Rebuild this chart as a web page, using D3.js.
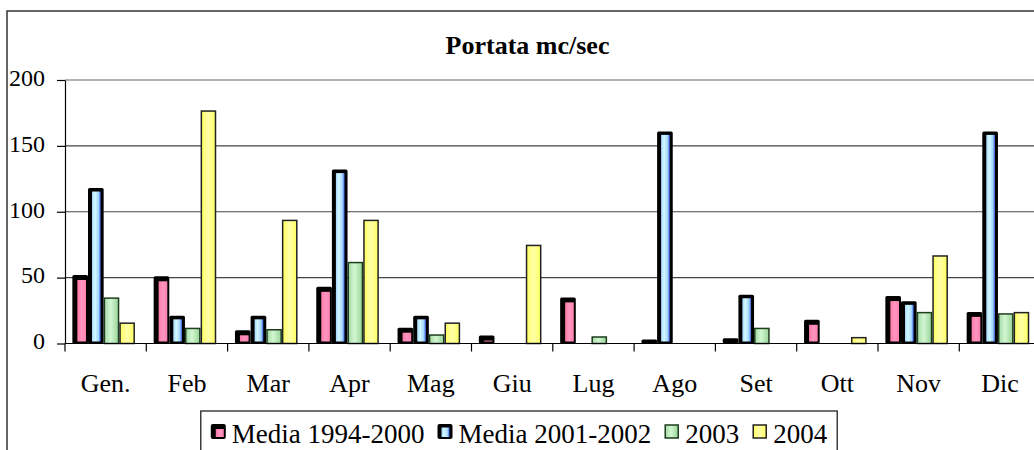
<!DOCTYPE html>
<html>
<head>
<meta charset="utf-8">
<script src="https://cdn.jsdelivr.net/npm/d3@7"></script>
<style>
  body { margin: 0; background: #fff; }
  svg { display: block; }
  svg text { font-family: "Liberation Serif", "DejaVu Serif", serif; }
</style>
</head>
<body>
<div id="wrapper"></div>
<script>
// data
const months = ["Gen.", "Feb", "Mar", "Apr", "Mag", "Giu", "Lug", "Ago", "Set", "Ott", "Nov", "Dic"]
const seriesNames = ["Media 1994-2000", "Media 2001-2002", "2003", "2004"]
const media9400 = [52, 51, 10, 43, 12, 6, 35, 3, 4, 18, 36, 24]
const media0102 = [118, 21, 21, 132, 21, 0, 0, 161, 37, 0, 32, 161]
const y2003 = [35, 12, 11, 62, 7, 0, 5.5, 0, 12, 0, 24, 23]
const y2004 = [16, 177, 94, 94, 16, 75, 0, 0, 0, 5, 67, 24]
const yTicks = [0, 50, 100, 150, 200]

const seriesValues = [media9400, media0102, y2003, y2004]

function drawChart() {

  // 1. dimensions
  const dimensions = {
    width: 1034,
    height: 450,
    frame: { left: 7, top: 11, right: 1048, bottom: 470 },
    margin: { top: 80, left: 65, bottom: 106.5 }
  }
  dimensions.boundedWidth = 12 * 81.3
  dimensions.boundedHeight = dimensions.height - dimensions.margin.top - dimensions.margin.bottom

  const font = "Liberation Serif"

  // 2. canvas
  const wrapper = d3.select("#wrapper")
    .append("svg")
    .attr("width", dimensions.width)
    .attr("height", dimensions.height)
    .attr("font-family", font)

  const defs = wrapper.append("defs")
  const gradients = [
    { id: "g-pink", stops: [["0%", "#ff7aa8"], ["50%", "#ff96c0"], ["100%", "#ff80b0"]] },
    { id: "g-blue", stops: [["0%", "#a8d8ff"], ["35%", "#d2faff"], ["75%", "#a6d6ff"], ["100%", "#3a62e0"]] },
    { id: "g-green", stops: [["0%", "#a6dca6"], ["45%", "#d2f6d2"], ["100%", "#98d498"]] },
    { id: "g-yellow", stops: [["0%", "#ffff60"], ["50%", "#ffffa8"], ["100%", "#ffff60"]] }
  ]
  gradients.forEach(g => {
    const lg = defs.append("linearGradient").attr("id", g.id)
      .attr("x1", "0%").attr("x2", "100%").attr("y1", "0%").attr("y2", "0%")
    g.stops.forEach(s => lg.append("stop").attr("offset", s[0]).attr("stop-color", s[1]))
  })

  // outer chart frame (runs past the right / bottom edge)
  wrapper.append("rect")
    .attr("x", dimensions.frame.left)
    .attr("y", dimensions.frame.top)
    .attr("width", dimensions.frame.right - dimensions.frame.left)
    .attr("height", dimensions.frame.bottom - dimensions.frame.top)
    .attr("fill", "none")
    .attr("stroke", "#333")
    .attr("stroke-width", 1.5)

  wrapper.append("text")
    .attr("x", (dimensions.frame.left + dimensions.frame.right) / 2)
    .attr("y", 54)
    .attr("text-anchor", "middle")
    .attr("font-family", font)
    .attr("font-weight", "bold")
    .attr("font-size", 26)
    .text("Portata mc/sec")

  const bounds = wrapper.append("g")
    .attr("transform", `translate(${dimensions.margin.left}, ${dimensions.margin.top})`)

  // 3. scales
  const xScale = d3.scaleBand()
    .domain(months)
    .range([0, dimensions.boundedWidth])

  const yScale = d3.scaleLinear()
    .domain([0, 200])
    .range([dimensions.boundedHeight, 0])

  const groupWidth = xScale.bandwidth() * 0.77
  const groupStart = (xScale.bandwidth() - groupWidth) / 2 - 2
  const subScale = d3.scaleBand()
    .domain(seriesNames)
    .range([groupStart, groupStart + groupWidth])

  // gridlines
  bounds.append("g")
    .selectAll("line")
    .data(yTicks.filter(d => d > 0))
    .join("line")
    .attr("x1", 0)
    .attr("x2", dimensions.boundedWidth)
    .attr("y1", d => yScale(d))
    .attr("y2", d => yScale(d))
    .attr("stroke", d => d == 200 ? "#999" : "#444")
    .attr("stroke-width", d => d == 200 ? 1.6 : 1.1)

  // 4. bars
  // style per series: shadow = thick black edge on left/top like the original
  const styles = [
    { fill: "url(#g-pink)", shadow: true, inset: { l: 5, t: 5, r: 2, b: 2 } },
    { fill: "url(#g-blue)", shadow: true, inset: { l: 4, t: 3.5, r: 3, b: 2 } },
    { fill: "url(#g-green)", shadow: false, stroke: "#1d3d1d" },
    { fill: "url(#g-yellow)", shadow: false, stroke: "#222" }
  ]

  const barData = []
  seriesNames.forEach((s, si) => {
    months.forEach((m, mi) => {
      const v = seriesValues[si][mi]
      if (v > 0) barData.push({ series: s, si, month: m, value: v })
    })
  })

  const barGroups = bounds.append("g")
    .selectAll("g")
    .data(barData)
    .join("g")
    .attr("transform", d => `translate(${xScale(d.month) + subScale(d.series)}, 0)`)

  const bw = subScale.bandwidth()

  barGroups.each(function (d) {
    const g = d3.select(this)
    const st = styles[d.si]
    const top = yScale(d.value)
    const h = dimensions.boundedHeight - top
    if (st.shadow) {
      g.append("rect")
        .attr("x", 0).attr("y", top)
        .attr("width", bw).attr("height", h)
        .attr("rx", 1.5)
        .attr("fill", "#000")
      const ih = h - st.inset.t - st.inset.b
      if (ih > 0) {
        g.append("rect")
          .attr("x", st.inset.l).attr("y", top + st.inset.t)
          .attr("width", bw - st.inset.l - st.inset.r).attr("height", ih)
          .attr("fill", st.fill)
      }
    } else {
      g.append("rect")
        .attr("x", 0.75).attr("y", top + 0.75)
        .attr("width", bw - 1.5).attr("height", Math.max(0, h - 0.75))
        .attr("fill", st.fill)
        .attr("stroke", st.stroke)
        .attr("stroke-width", 1.5)
    }
  })

  // 5. axes
  const yAxis = bounds.append("g")
    .call(d3.axisLeft(yScale).tickValues(yTicks).tickSize(8).tickSizeOuter(0))
    .attr("font-family", font)
    .attr("font-size", 24)
  yAxis.select(".domain").attr("stroke", "#000").attr("stroke-width", 1.2)
  yAxis.selectAll(".tick line").attr("stroke", "#000").attr("stroke-width", 1.2)
  yAxis.selectAll(".tick text")
    .attr("x", -20)
    .attr("dy", "0.22em")
    .attr("fill", "#000")

  const xAxis = bounds.append("g")
    .attr("transform", `translate(0, ${dimensions.boundedHeight})`)
  xAxis.append("line")
    .attr("x1", 0).attr("x2", dimensions.boundedWidth)
    .attr("stroke", "#000").attr("stroke-width", 1.2)
  xAxis.selectAll(".xtick")
    .data(months)
    .join("line")
    .attr("class", "xtick")
    .attr("x1", d => xScale(d)).attr("x2", d => xScale(d))
    .attr("y1", 0).attr("y2", 8)
    .attr("stroke", "#000").attr("stroke-width", 1.2)
  xAxis.selectAll(".xlabel")
    .data(months)
    .join("text")
    .attr("class", "xlabel")
    .attr("x", d => xScale(d) + xScale.bandwidth() / 2)
    .attr("y", 48.5)
    .attr("text-anchor", "middle")
    .attr("font-family", font)
    .attr("font-size", 26)
    .text(d => d)

  // 6. legend
  const legend = wrapper.append("g")
  const keySize = 15
  const keyGap = 6
  const itemGap = 13
  const legendItems = legend.selectAll("g")
    .data(seriesNames)
    .join("g")
  legendItems.append("text")
    .attr("y", 443)
    .attr("font-family", font)
    .attr("font-size", 27)
    .text(d => d)

  let cursor = 0
  const itemPos = []
  legendItems.each(function (d, i) {
    const w = d3.select(this).select("text").node().getComputedTextLength()
    itemPos.push(cursor)
    cursor += keySize + keyGap + w + (i < seriesNames.length - 1 ? itemGap : 0)
  })
  const pad = 10
  const boxWidth = cursor + pad * 2
  const boxLeft = 519 - boxWidth / 2

  legend.insert("rect", ":first-child")
    .attr("x", boxLeft).attr("y", 411)
    .attr("width", boxWidth).attr("height", 50)
    .attr("fill", "#fff")
    .attr("stroke", "#222")
    .attr("stroke-width", 1.3)

  legendItems.attr("transform", (d, i) => `translate(${boxLeft + pad + itemPos[i]}, 0)`)
  legendItems.select("text").attr("x", keySize + keyGap)

  const keyTop = 424
  legendItems.each(function (d, i) {
    const g = d3.select(this)
    const st = styles[i]
    if (st.shadow) {
      g.append("rect").attr("x", 0).attr("y", keyTop).attr("width", keySize).attr("height", keySize)
        .attr("rx", 2).attr("fill", "#000")
      g.append("rect").attr("x", st.inset.l).attr("y", keyTop + st.inset.t)
        .attr("width", keySize - st.inset.l - st.inset.r).attr("height", keySize - st.inset.t - st.inset.b)
        .attr("fill", st.fill)
    } else {
      g.append("rect").attr("x", 1).attr("y", keyTop + 1).attr("width", keySize - 2).attr("height", keySize - 2)
        .attr("fill", st.fill).attr("stroke", st.stroke).attr("stroke-width", 1.5)
    }
  })
}
drawChart()
</script>
</body>
</html>
